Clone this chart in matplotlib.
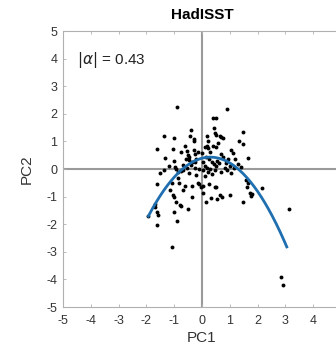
import matplotlib
matplotlib.use("Agg")
import matplotlib.pyplot as plt
import numpy as np

plt.rcParams['font.family'] = ['Liberation Sans', 'DejaVu Sans']
plt.rcParams['axes.unicode_minus'] = False

pc1 = [-0.91, 0.89, 0.38, 0.50, 1.46, -0.41, -0.43, -1.36, -1.00,
       0.43, 0.48, 0.52, 0.70, 0.75, 0.65, 0.17, 0.20, -0.30, -0.28,
       1.34, 1.46, -1.63, -1.05, -1.33, -1.01,
       -0.55, -0.50, -0.58, -0.48, -0.45,
       -0.67, -0.98, -0.95, -0.85, -0.75, -0.70, -0.55, -0.40, -0.35,
       0.12, 0.20, 0.17, 0.40, 0.50, 0.58, 1.04, 1.10, -0.25, -0.22, -0.25,
       0.15, 0.25, 0.35, 0.42, 0.50, 0.55, 0.60,
       0.05, 0.10, 0.18, 0.28, 0.05, 0.22, 0.35,
       -0.10, -0.25, 0.87, 0.75, 0.95, 1.00,
       1.64, 1.30, 1.40, 1.15, 0.90,
       -1.51, -1.63, -1.09, -0.82, -1.15, -1.04, -1.00, -0.67, -0.85, -0.60,
       -0.10, -0.05, 0.25, 0.04, 0.47, 0.52, 0.65, 0.72, 0.33, 1.00,
       1.58, 1.65, 1.62, 2.16, 1.72, 1.80, 1.76,
       -1.93, -1.63, -1.57, -1.70, -1.68, -1.61, -1.09, -0.89, -1.01, -0.95,
       -0.79, -0.75, -0.49, -0.37, -0.37, 0.13, 0.55, 1.46,
       3.14, 2.83, 2.93, -0.13, 0.05,
       -0.30, -0.15, 0.00, 0.30, 0.68, 0.82, 0.70, 0.45, -0.45, -0.20,
       0.10, 1.05, 1.20, -0.60, -0.75, -1.20, -1.35]
pc2 = [2.24, 2.16, 1.84, 1.84, 1.35, 1.41, 1.21, 1.21, 1.14,
       1.47, 1.32, 1.25, 1.15, 1.12, 1.20, 1.20, 1.00, 1.10, 1.00,
       1.00, 0.90, 0.71, 0.71, 0.39, 0.30,
       0.65, 0.50, 0.38, 0.33, 0.45,
       0.14, 0.07, 0.00, -0.10, -0.08, -0.02, 0.05, 0.15, 0.25,
       0.80, 0.75, 0.85, 0.85, 0.78, 0.95, 0.69, 0.58, 0.55, 0.35, 0.25,
       0.45, 0.35, 0.25, 0.18, 0.12, 0.30, 0.20,
       0.25, 0.12, 0.05, 0.00, -0.05, -0.12, -0.18,
       0.00, 0.05, 0.21, 0.45, 0.35, 0.10,
       0.39, 0.18, 0.07, 0.02, -0.05,
       -0.16, -0.54, -0.52, -0.52, -0.76, -0.95, -1.00, -0.76, -0.33, -0.60,
       -0.55, -0.65, -0.55, -0.87, -0.67, -0.65, -0.95, -1.00, -1.05, -0.94,
       -0.40, -0.52, -0.65, -0.68, -0.88, -0.92, -0.97,
       -1.69, -1.55, -1.65, -1.25, -1.38, -2.03, -2.84, -1.88, -1.55, -1.20,
       -1.30, -1.35, -1.46, -1.00, -0.62, -1.18, -1.10, -1.21,
       -1.46, -3.90, -4.20, -0.50, -0.60,
       0.70, 0.62, 0.58, 0.62, 0.55, 0.05, -0.10, -0.05, -0.15, -0.20,
       -0.25, -0.15, 0.35, 0.85, 0.60, 0.10, -0.05]

# quadratic fit coefficients (highest power first) and its x-range
fit_coef = [-0.43, 0.258, 0.391]
fit_range = [-1.93, 3.05]
alpha_text = r'$|\alpha|$ = 0.43'
title = 'HadISST'
ticks = [-5, -4, -3, -2, -1, 0, 1, 2, 3, 4, 5]
xtick_labels = ['-5', '-4', '-3', '-2', '-1', '0', '1', '2', '3', '4', '']
ytick_labels = ['-5', '-4', '-3', '-2', '-1', '0', '1', '2', '3', '4', '5']

fig = plt.figure(figsize=(3.36, 3.55), dpi=100)
ax = fig.add_axes([63/336, 48/355, 278/336, 276/355])

ax.axvline(0, color='#9a9a9a', lw=1.5, zorder=1)
ax.axhline(0, color='#9a9a9a', lw=1.5, zorder=1)
ax.plot(pc1, pc2, 'o', color='black', markersize=2.8, markeredgewidth=0, zorder=3)
xf = np.linspace(fit_range[0], fit_range[1], 200)
ax.plot(xf, np.polyval(fit_coef, xf), color='#1f6fb0', lw=2.0, zorder=4)

ax.set_xlim(-5, 5)
ax.set_ylim(-5, 5)
ax.set_xticks(ticks)
ax.set_xticklabels(xtick_labels)
ax.set_yticks(ticks)
ax.set_yticklabels(ytick_labels)
ax.tick_params(direction='in', length=2.5, width=0.6, colors='#b0b0b0',
               labelcolor='#333333', labelsize=9, top=True, right=True)
ax.tick_params(axis='x', pad=6)
ax.tick_params(axis='y', pad=4)
for s in ax.spines.values():
    s.set_color('#b0b0b0')
    s.set_linewidth(0.8)

ax.set_xlabel('PC1', fontsize=11, color='#333333', labelpad=3)
ax.set_ylabel('PC2', fontsize=11, color='#333333', labelpad=9)
ax.set_title(title, fontsize=11, fontweight='bold', pad=9)
ax.text(-4.5, 3.95, alpha_text, fontsize=11, color='#222222', va='center', ha='left')

fig.savefig('out.png', dpi=100)
